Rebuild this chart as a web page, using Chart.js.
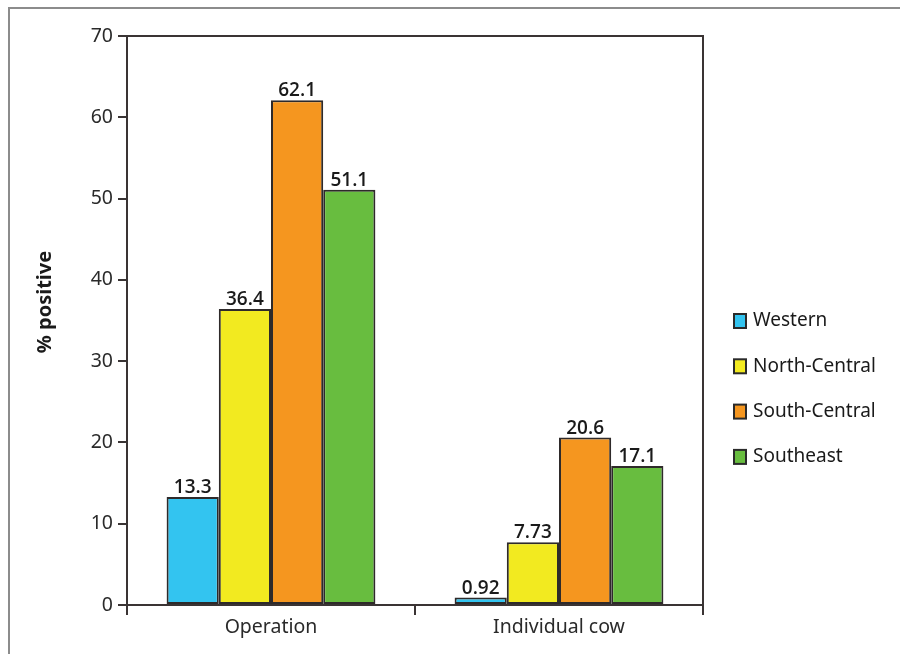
<!DOCTYPE html>
<html>
<head>
<meta charset="utf-8">
<script src="https://cdn.jsdelivr.net/npm/chart.js@4/dist/chart.umd.min.js"></script>
<style>
html,body{margin:0;padding:0;background:#fff;}
#wrap{width:900px;height:654px;position:relative;}
</style>
</head>
<body>
<div id="wrap"><canvas id="c" width="900" height="654"></canvas></div>
<script>
const categories = ["Operation", "Individual cow"];
const seriesNames = ["Western", "North-Central", "South-Central", "Southeast"];
const western = [13.3, 0.92];
const northCentral = [36.4, 7.73];
const southCentral = [62.1, 20.6];
const southeast = [51.1, 17.1];
const valueLabels = [["13.3", "0.92"], ["36.4", "7.73"], ["62.1", "20.6"], ["51.1", "17.1"]];
const yTicks = [0, 10, 20, 30, 40, 50, 60, 70];
const colors = ["#33c4f0", "#f2ea20", "#f5961f", "#68bd3f"];
const yTitle = "% positive";

const FONT = "'Noto Sans', 'DejaVu Sans', sans-serif";
const LFONT = "'Open Sans', 'Noto Sans', sans-serif";

const decor = {
  id: 'decor',
  beforeDraw(chart) {
    const ctx = chart.ctx;
    ctx.save();
    ctx.fillStyle = '#fff';
    ctx.fillRect(0, 0, chart.width, chart.height);
    ctx.strokeStyle = '#8c8c8c';
    ctx.lineWidth = 2;
    ctx.beginPath();
    ctx.moveTo(9, chart.height);
    ctx.lineTo(9, 8);
    ctx.lineTo(chart.width, 8);
    ctx.stroke();
    ctx.restore();
  },
  afterDraw(chart) {
    const ctx = chart.ctx;
    const a = chart.chartArea;
    ctx.save();
    // top and right frame
    ctx.strokeStyle = '#3a3434';
    ctx.lineWidth = 2;
    ctx.beginPath();
    ctx.moveTo(a.left, a.top);
    ctx.lineTo(a.right, a.top);
    ctx.lineTo(a.right, a.bottom + 10);
    ctx.stroke();
    // value labels
    ctx.font = "600 19px " + LFONT;
    ctx.fillStyle = '#1a1a1a';
    ctx.textAlign = 'center';
    ctx.textBaseline = 'alphabetic';
    chart.data.datasets.forEach((ds, i) => {
      const meta = chart.getDatasetMeta(i);
      meta.data.forEach((bar, j) => {
        ctx.fillText(valueLabels[i][j], bar.x, bar.y - 4);
      });
    });
    // y title
    ctx.save();
    ctx.translate(45, 302);
    ctx.rotate(-Math.PI / 2);
    ctx.font = "bold 20px " + FONT;
    ctx.fillStyle = '#1a1a1a';
    ctx.textAlign = 'center';
    ctx.textBaseline = 'middle';
    ctx.fillText(yTitle, 0, 0);
    ctx.restore();
    // legend
    const lx = 734, ly0 = 321, step = 45.3;
    chart.data.datasets.forEach((ds, i) => {
      const cy = ly0 + i * step;
      ctx.fillStyle = ds.backgroundColor;
      ctx.fillRect(lx, cy - 7, 12, 14);
      ctx.strokeStyle = '#2a2a2a';
      ctx.lineWidth = 2;
      ctx.strokeRect(lx, cy - 7, 12, 14);
      ctx.fillStyle = '#1a1a1a';
      ctx.font = "19px " + FONT;
      ctx.textAlign = 'left';
      ctx.textBaseline = 'middle';
      ctx.fillText(ds.label, lx + 19, cy);
    });
    ctx.restore();
  }
};

const seriesData = [western, northCentral, southCentral, southeast];

new Chart(document.getElementById('c'), {
  type: 'bar',
  data: {
    labels: categories,
    datasets: seriesNames.map((n, i) => ({
      label: n,
      data: seriesData[i],
      backgroundColor: colors[i],
      borderColor: '#2e2a2a',
      borderWidth: 2,
      borderSkipped: false,
      categoryPercentage: 0.725,
      barPercentage: 1.0
    }))
  },
  options: {
    responsive: false,
    animation: false,
    devicePixelRatio: 1,
    layout: { padding: { left: 0, right: 197, top: 36, bottom: 0 } },
    plugins: { legend: { display: false }, tooltip: { enabled: false } },
    scales: {
      x: {
        afterFit(s) { s.height = 49; },
        grid: { offset: true, drawOnChartArea: false, tickLength: 10, color: '#3a3434', lineWidth: 2 },
        border: { display: true, color: '#3a3434', width: 2 },
        ticks: { font: { family: FONT, size: 19.5 }, color: '#2a2a2a', padding: 1 }
      },
      y: {
        min: 0, max: 70,
        afterFit(s) { s.width = 127; },
        afterBuildTicks(s) { s.ticks = yTicks.map(v => ({ value: v })); },
        grid: { drawOnChartArea: false, tickLength: 9, color: '#3a3434', lineWidth: 2 },
        border: { display: true, color: '#3a3434', width: 2 },
        ticks: { font: { family: FONT, size: 19.5 }, color: '#2a2a2a', padding: 5 }
      }
    }
  },
  plugins: [decor]
});
</script>
</body>
</html>
